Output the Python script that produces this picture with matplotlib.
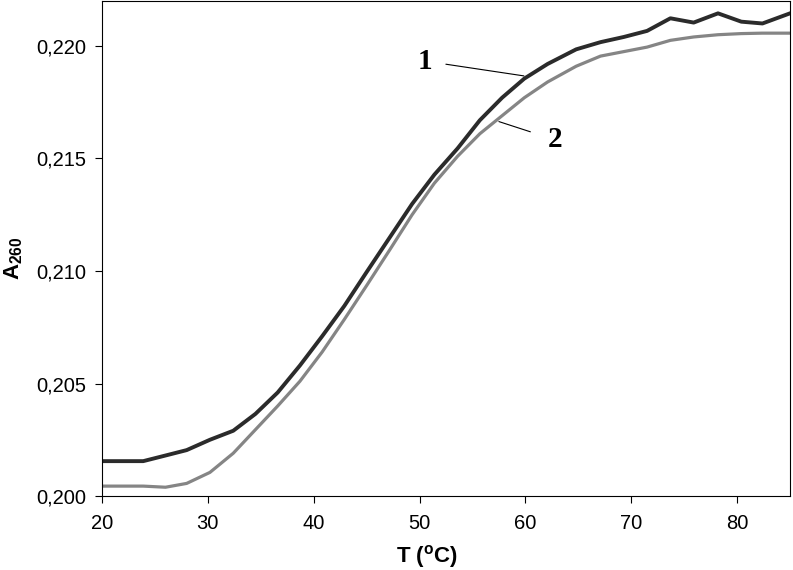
import matplotlib
matplotlib.use("Agg")
import matplotlib.pyplot as plt
from matplotlib.ticker import FuncFormatter, MultipleLocator

plt.rcParams.update({
    "font.family": ["Liberation Sans", "DejaVu Sans"],
    "mathtext.fontset": "custom",
    "mathtext.default": "bf",
    "mathtext.bf": "Liberation Sans:bold",
    "mathtext.rm": "Liberation Sans:bold",
})

# temperature, °C
temp = [20.0, 21.9, 23.9, 26.0, 28.0, 30.2, 32.4, 34.5, 36.6, 38.7, 40.8,
        42.9, 45.0, 47.2, 49.3, 51.4, 53.6, 55.7, 57.8, 59.9, 62.1, 64.8,
        67.1, 69.3, 71.5, 73.7, 75.9, 78.2, 80.4, 82.4, 85.0]

# A260, curve 1
a260_1 = [0.20155, 0.20155, 0.20155, 0.20180, 0.20204, 0.20250, 0.20290,
          0.20365, 0.20460, 0.20580, 0.20710, 0.20845, 0.20995, 0.21150,
          0.21298, 0.21428, 0.21545, 0.21670, 0.21770, 0.21855, 0.21920,
          0.21985, 0.22017, 0.22040, 0.22067, 0.22123, 0.22104, 0.22145,
          0.22108, 0.22100, 0.22145]

# A260, curve 2
a260_2 = [0.20044, 0.20044, 0.20044, 0.20039, 0.20056, 0.20105, 0.20190,
          0.20295, 0.20400, 0.20510, 0.20640, 0.20785, 0.20935, 0.21095,
          0.21250, 0.21390, 0.21510, 0.21610, 0.21690, 0.21770, 0.21840,
          0.21910, 0.21955, 0.21975, 0.21995, 0.22025, 0.22040, 0.22050,
          0.22055, 0.22057, 0.22057]

fig = plt.figure(figsize=(7.93, 5.70), dpi=100)
ax = fig.add_axes([0.1286, 0.1298, 0.8676, 0.8685])

ax.plot(temp, a260_1, color="#2b2b2b", lw=2.8, solid_joinstyle="round")
ax.plot(temp, a260_2, color="#858585", lw=2.3, solid_joinstyle="round")

# curve labels with leader lines
ax.annotate("1", xy=(59.86, 0.21867), xytext=(50.5, 0.21933),
            fontsize=21, fontweight="bold", family="Liberation Serif",
            ha="center", va="center",
            arrowprops=dict(arrowstyle="-", color="black", lw=0.8,
                            shrinkA=8, shrinkB=0))
ax.annotate("2", xy=(57.5, 0.21664), xytext=(62.8, 0.21583),
            fontsize=21, fontweight="bold", family="Liberation Serif",
            ha="center", va="center",
            arrowprops=dict(arrowstyle="-", color="black", lw=0.8,
                            shrinkA=11, shrinkB=0))

ax.set_xlim(20, 85)
ax.set_ylim(0.200, 0.222)
ax.xaxis.set_major_locator(MultipleLocator(10))
ax.yaxis.set_major_locator(MultipleLocator(0.005))
ax.yaxis.set_major_formatter(FuncFormatter(lambda v, p: f"{v:.3f}".replace(".", ",")))
ax.tick_params(direction="out", length=5, width=0.8, labelsize=14.5,
               top=False, right=False)
ax.tick_params(axis="x", pad=8)
ax.tick_params(axis="y", pad=6)
for sp in ax.spines.values():
    sp.set_linewidth(0.8)

ax.set_xlabel(r"T ($^{\mathregular{o}}$C)", fontsize=16, fontweight="bold", va="center")
ax.xaxis.set_label_coords(0.472, -0.122)
ax.set_ylabel(r"A$_{260}$", fontsize=16, fontweight="bold", va="center")
ax.yaxis.set_label_coords(-0.129, 0.48)

fig.savefig("out.png", dpi=100)
